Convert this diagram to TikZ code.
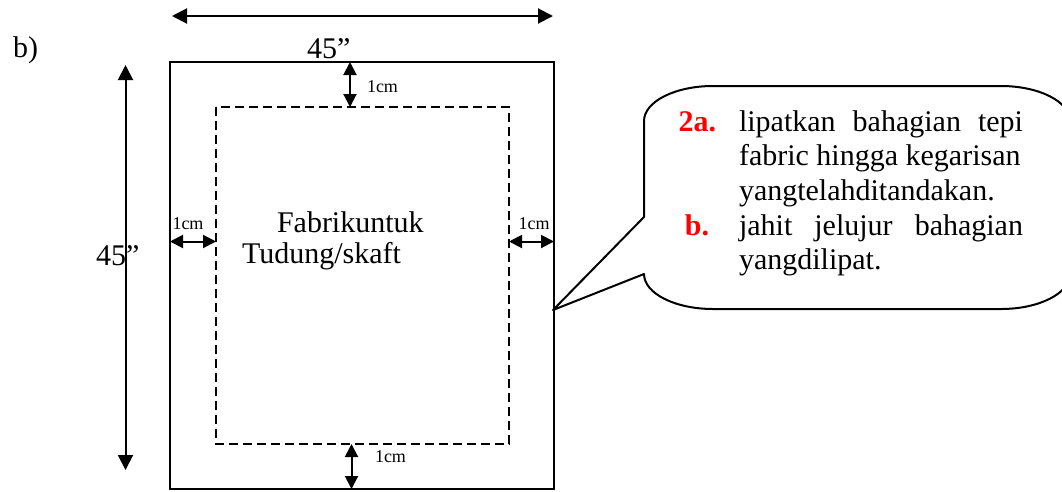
\documentclass[tikz,border=0pt]{standalone}
\usepackage{fontspec}
\setmainfont{Liberation Serif}
\usetikzlibrary{arrows.meta}
\begin{document}
\begin{tikzpicture}[x=1pt,y=-1pt,
  big/.style={font=\fontsize{30}{36}\selectfont, inner sep=0pt, outer sep=0pt},
  small/.style={font=\fontsize{18}{22}\selectfont, inner sep=0pt, outer sep=0pt},
  num/.style={font=\fontsize{30}{36}\selectfont\bfseries, text=red, inner sep=0pt, outer sep=0pt},
  dimarrow/.style={line width=2pt, {Triangle[length=15pt,width=15pt]}-{Triangle[length=15pt,width=15pt]}},
  cmarrow/.style={line width=2pt, {Triangle[length=13pt,width=13pt]}-{Triangle[length=13pt,width=13pt]}},
  fabricframe/.style={line width=2pt},
  seam/.style={line width=1.7pt, dash pattern=on 9pt off 5pt},
  bubble/.style={line width=2pt, line join=round}]
\useasboundingbox (0,0) rectangle (1062,491);

% outer fabric and fold line
\coordinate (fNW) at (170,62);
\coordinate (fSE) at (554,489);
\draw[fabricframe] (fNW) rectangle (fSE);
\coordinate (sNW) at (216,107);
\coordinate (sSE) at (509,444);
\draw[seam] (sNW) rectangle (sSE);

% overall dimensions
\coordinate (topL) at (172,16);
\coordinate (topR) at (553,16);
\draw[dimarrow] (topL) -- (topR);
\coordinate (leftT) at (125.5,65);
\coordinate (leftB) at (125.5,470);
\draw[dimarrow] (leftT) -- (leftB);

% 1cm margins
\coordinate (mt1) at (350,62);   \coordinate (mt2) at (350,107);
\coordinate (mb1) at (351.5,444); \coordinate (mb2) at (351.5,489);
\coordinate (ml1) at (170,241.5); \coordinate (ml2) at (216,241.5);
\coordinate (mr1) at (509,241.5); \coordinate (mr2) at (554,241.5);
\draw[cmarrow] (mt1) -- (mt2);
\draw[cmarrow] (mb1) -- (mb2);
\draw[cmarrow] (ml1) -- (ml2);
\draw[cmarrow] (mr1) -- (mr2);

% labels
\node[big, anchor=base west] (lb) at (13,57) {b)};
\node[big, anchor=base west] (wtop) at (307,58) {45''};
\node[big, anchor=base west] (hleft) at (96,265) {45''};
\node[small, anchor=west] (cmT) at (367,87) {1cm};
\node[small, anchor=west] (cmB) at (375,457) {1cm};
\node[small] (cmL) at (188,224) {1cm};
\node[small] (cmR) at (534,224) {1cm};
\node[big, anchor=base west] (fab1) at (277,232) {Fabrikuntuk};
\node[big, anchor=base west] (fab2) at (242,263) {Tudung/skaft};

% callout
\draw[bubble] (644,217) -- (644,121)
  arc[start angle=180, end angle=270, x radius=69, y radius=35] -- (1001,86)
  arc[start angle=270, end angle=360, x radius=69, y radius=35] -- (1070,274)
  arc[start angle=0, end angle=90, x radius=69, y radius=35] -- (713,309)
  arc[start angle=90, end angle=180, x radius=69, y radius=35]
  -- (553,310) -- cycle;

\node[num, anchor=base east] (n2a) at (716,131) {2a.};
\node[num, anchor=base east] (nb) at (709,235) {b.};
\node[big, anchor=base west] (t1) at (739,131) {\makebox[284pt][s]{lipatkan bahagian tepi}};
\node[big, anchor=base west] (t2) at (739,165.7) {fabric hingga kegarisan};
\node[big, anchor=base west] (t3) at (739,200.4) {yangtelahditandakan.};
\node[big, anchor=base west] (t4) at (739,235) {\makebox[284pt][s]{jahit jelujur bahagian}};
\node[big, anchor=base west] (t5) at (739,269.8) {yangdilipat.};
\end{tikzpicture}
\end{document}
